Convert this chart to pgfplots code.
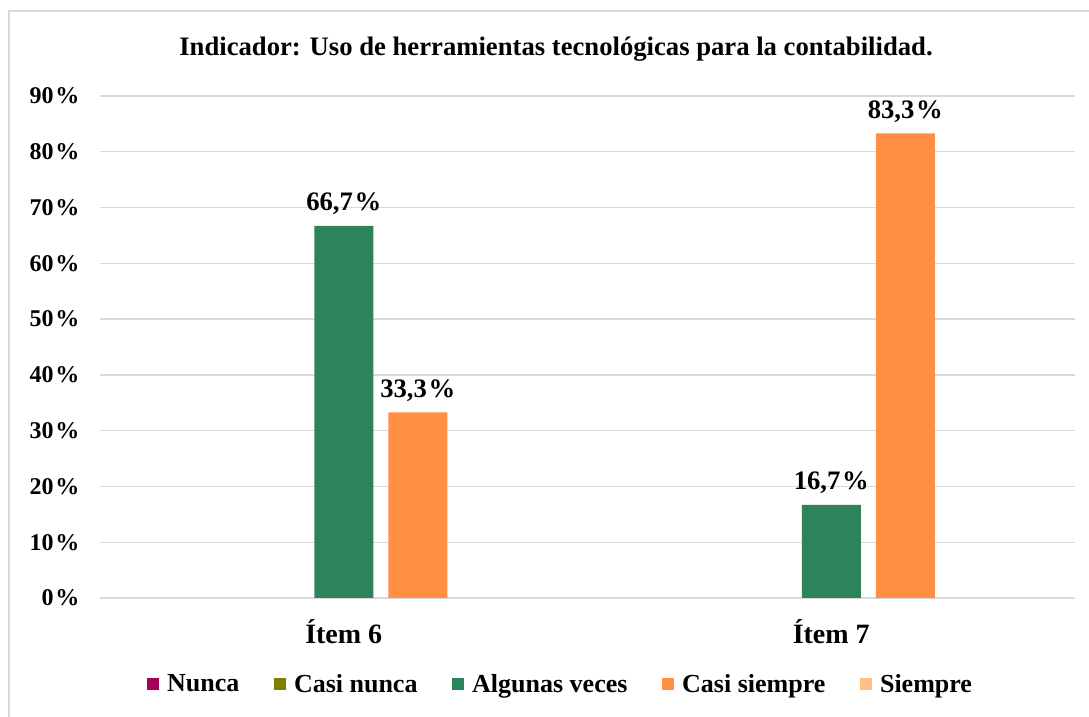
\documentclass[border=0pt]{standalone}
\usepackage{fontspec}
\setmainfont{Liberation Serif}
\usepackage{pgfplots}
\pgfplotsset{compat=1.18}

\definecolor{cNunca}{HTML}{A50054}
\definecolor{cCasiNunca}{HTML}{808000}
\definecolor{cAlgunas}{HTML}{2E845A}
\definecolor{cCasiSiempre}{HTML}{FF8F42}
\definecolor{cSiempre}{HTML}{FFBF85}
\definecolor{gridgray}{HTML}{D9D9D9}

\newcommand{\pc}{\kern1.2pt\%}

\begin{document}
\begin{tikzpicture}[font=\bfseries\fontsize{18}{21}\selectfont]
% 1 px of the reference = 0.75pt; axis origin at px (100,598)
\useasboundingbox (-75pt,-89.25pt) rectangle (741.75pt,448.5pt);
\draw[gridgray, line width=1.5pt] (-68.25pt,-100pt) rectangle (760pt,440.25pt);
\begin{axis}[
  scale only axis,
  width=731.25pt,
  height=376.5pt,
  ybar,
  bar width=44.25pt,
  xmin=-0.5, xmax=1.5,
  ymin=0, ymax=90,
  xtick={0,1},
  xticklabels={Ítem 6, Ítem 7},
  ytick={0,10,...,90},
  yticklabels={0\pc,10\pc,20\pc,30\pc,40\pc,50\pc,60\pc,70\pc,80\pc,90\pc},
  major tick length=0pt,
  axis line style={draw=none},
  ymajorgrids,
  major grid style={draw=gridgray, line width=1pt},
  xticklabel style={anchor=center, yshift=-25.5pt, font=\bfseries\fontsize{21}{24}\selectfont},
  yticklabel style={anchor=east, xshift=-12pt, font=\bfseries\fontsize{18}{21}\selectfont},
  legend style={at={(0.4727,-0.1713)}, anchor=center, draw=none,
    legend columns=5, font=\bfseries\fontsize{19.5}{22}\selectfont,
    /tikz/every odd column/.style={column sep=4pt},
    /tikz/every even column/.style={column sep=24pt}},
  legend image code/.code={\fill[#1] (0pt,-4.5pt) rectangle (9pt,4.5pt);},
  nodes near coords style={font=\bfseries\fontsize{20}{23}\selectfont, inner sep=3pt, yshift=5pt},
]
% zero series: nothing to draw, kept for the legend
\addlegendimage{fill=cNunca, draw=none}
\addplot[fill=none, draw=none, bar shift=-111pt, forget plot] coordinates {(0,0) (1,0)};
\addlegendimage{fill=cCasiNunca, draw=none}
\addplot[fill=none, draw=none, bar shift=-55.5pt, forget plot] coordinates {(0,0) (1,0)};
\addplot[fill=cAlgunas, draw=none, bar shift=0pt,
  point meta=explicit symbolic, nodes near coords]
  coordinates {(0,66.7) [66,7\pc] (1,16.7) [16,7\pc]};
\addplot[fill=cCasiSiempre, draw=none, bar shift=55.5pt,
  point meta=explicit symbolic, nodes near coords]
  coordinates {(0,33.3) [33,3\pc] (1,83.3) [83,3\pc]};
\addlegendimage{fill=cSiempre, draw=none}
\addplot[fill=none, draw=none, bar shift=111pt, forget plot] coordinates {(0,0) (1,0)};
\legend{Nunca, Casi nunca, Algunas veces, Casi siempre, Siempre}
\end{axis}
\node at (342pt,411.75pt) {\fontsize{20}{23}\selectfont Indicador: Uso de herramientas tecnológicas para la contabilidad.};
\end{tikzpicture}
\end{document}
